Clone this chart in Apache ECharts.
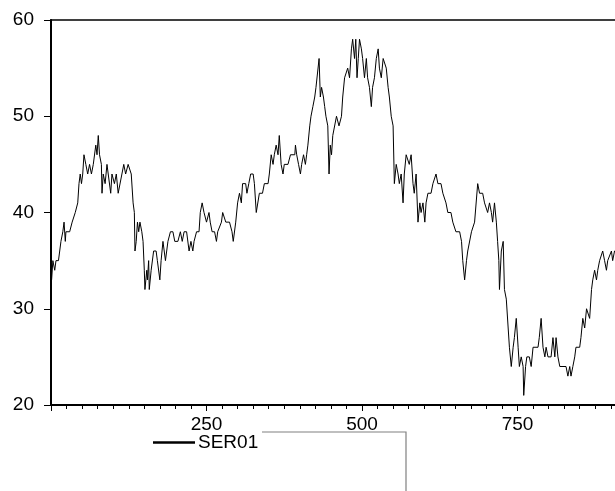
<!DOCTYPE html>
<html>
<head>
<meta charset="utf-8">
<script src="https://cdn.jsdelivr.net/npm/echarts@6/dist/echarts.min.js"></script>
<style>
html,body{margin:0;padding:0;background:#fff;width:615px;height:491px;overflow:hidden;}
#chart{width:690px;height:491px;}
</style>
</head>
<body>
<div id="chart"></div>
<script>
var obsIndex = [1,3,6,8,12,14,16,19,21,23,24,30,34,39,43,45,47,49,51,53,56,59,62,65,68,72,74,76,78,81,82,84,87,90,93,96,98,102,105,108,111,114,117,120,124,127,129,132,134,135,137,139,141,143,146,148,150,151,154,155,157,158,161,163,165,169,171,175,177,180,182,184,186,188,192,196,199,204,208,211,214,218,222,225,228,230,234,238,240,243,246,250,254,256,
259,263,266,268,274,276,281,287,291,293,297,300,303,306,308,313,315,318,321,325,327,330,333,335,340,343,349,351,354,357,359,362,365,367,370,373,375,381,385,392,393,395,398,401,403,406,409,411,413,416,418,421,424,426,429,431,433,435,438,440,442,445,447,449,451,453,456,459,463,467,469,472,475,477,480,483,485,488,490,492,494,496,499,501,504,507,509,512,515,517,520,523,526,528,531,534,536,539,542,544,547,550,552,555,558,560,563,566,568,571,576,
579,582,584,587,590,593,595,598,601,603,606,611,614,619,622,627,630,635,638,643,646,651,657,660,662,665,668,670,673,676,681,684,686,689,694,697,700,702,705,708,710,713,716,718,720,721,724,727,729,732,735,737,740,743,745,748,751,753,756,759,760,763,765,769,772,775,783,785,788,791,794,796,799,804,807,810,812,815,818,828,831,834,836,839,842,844,850,852,855,858,861,866,869,871,874,877,879,882,885,887,890,893,895,898,901,903,906,910];
var ser01 = [33,35,34,35,35,36,37,38,39,37,38,38,39,40,41,43,44,43,44,46,45,44,45,44,45,47,46,48,46,45,42,44,43,45,45,42,44,43,44,42,42,44,45,44,45,45,44,41,40,36,37,39,38,39,38,37,34,32,34,33,35,32,34,34,36,36,35,33,35,37,36,35,36,37,38,38,37,37,38,37,38,38,36,37,36,37,38,38,40,41,40,39,40,39,
38,38,37,38,39,40,39,39,38,37,39,41,42,41,43,43,42,43,44,44,43,40,40,42,42,43,43,44,46,45,46,47,46,48,45,44,45,45,46,46,47,46,45,44,45,46,45,46,47,49,50,51,52,53,53,56,52,53,52,51,50,49,44,47,46,48,48,50,49,50,52,54,54,55,54,57,58,56,58,54,56,58,57,56,54,56,54,53,51,53,54,56,57,55,54,56,56,55,53,52,50,49,43,45,44,43,44,41,44,46,45,
46,43,42,44,39,41,40,41,39,41,42,42,43,44,43,43,42,41,40,40,39,38,38,37,35,33,35,36,36,38,39,39,43,42,42,41,41,40,41,40,39,41,39,37,35,32,36,37,32,31,28,26,24,26,27,29,26,24,25,24,21,24,25,25,24,26,26,27,29,26,25,26,25,25,27,25,27,25,24,24,23,24,23,24,25,26,26,27,29,28,30,29,32,33,34,33,34,35,35,36,35,34,35,35,36,35,36,36];
var yTicks = [20, 30, 40, 50, 60];
var xLabelTicks = [250, 500, 750];

var points = obsIndex.map(function (t, i) { return [t, ser01[i]]; });

var chart = echarts.init(document.getElementById('chart'), null, {renderer: 'canvas'});
var font = 'Liberation Sans, Arial, sans-serif';
chart.setOption({
  animation: false,
  backgroundColor: '#fff',
  grid: {left: 51, top: 20, width: 622, height: 385, show: true, borderColor: '#000', borderWidth: 1.5, backgroundColor: 'transparent'},
  xAxis: {
    type: 'value', min: 0, max: 1000, interval: 250,
    axisLine: {show: true, onZero: false, lineStyle: {color: '#000', width: 2}},
    axisTick: {show: true, inside: false, length: 6, lineStyle: {color: '#000'}},
    minorTick: {show: true, splitNumber: 10, length: 4, lineStyle: {color: '#000'}},
    splitLine: {show: false},
    axisLabel: {
      color: '#000', fontSize: 19, fontFamily: font, margin: 10,
      formatter: function (v) { return xLabelTicks.indexOf(v) >= 0 ? String(v) : ''; }
    }
  },
  yAxis: {
    type: 'value', min: yTicks[0], max: yTicks[yTicks.length - 1], interval: 10,
    axisLine: {show: true, lineStyle: {color: '#000', width: 2}},
    axisTick: {show: true, inside: false, length: 7, lineStyle: {color: '#000'}},
    splitLine: {show: false},
    axisLabel: {color: '#000', fontSize: 19, fontFamily: font, margin: 17}
  },
  legend: {
    show: true, left: 148, top: 428, icon: 'rect', itemWidth: 42, itemHeight: 2.5, itemGap: 4,
    textStyle: {color: '#000', fontSize: 19, fontFamily: font, padding: [0, 0, 0, -2]},
    data: [{name: 'SER01', icon: 'rect'}],
    selectedMode: false
  },
  graphic: [{
    type: 'polyline', silent: true,
    shape: {points: [[262, 432], [406, 432], [406, 491]]},
    style: {stroke: '#808080', lineWidth: 1.2, fill: null}
  }],
  series: [{
    name: 'SER01', type: 'line', data: points, showSymbol: false, symbol: 'none',
    lineStyle: {color: '#000', width: 1}, itemStyle: {color: '#000'}, clip: true
  }]
});
</script>
</body>
</html>
